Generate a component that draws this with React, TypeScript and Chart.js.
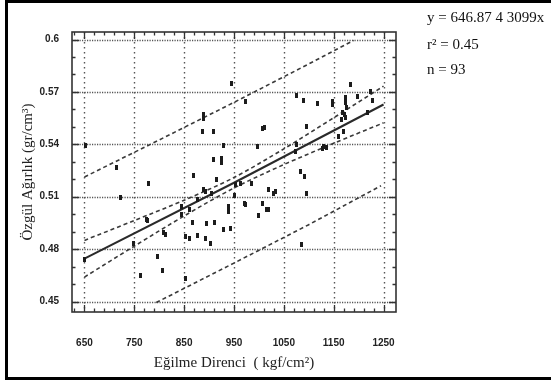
import React, { useEffect, useRef } from 'react';
import { Chart, registerables } from 'chart.js';
Chart.register(...registerables);

const xTickValues = [650, 750, 850, 950, 1050, 1150, 1250];
const xTickLabels = ['650', '750', '850', '950', '1050', '1150', '1250'];
const yTickValues = [0.45, 0.48, 0.51, 0.54, 0.57, 0.6];
const yTickLabels = ['0.45', '0.48', '0.51', '0.54', '0.57', '0.6'];

const pointX = [
  944, 889, 889, 886, 909, 928, 653, 997, 909, 924, 925, 974,
  1184, 1075, 1090, 1117, 1147, 1147, 1174, 1174, 1198, 1224, 1228, 1218,
  1168, 1174, 1160, 1170, 1096, 1007, 1011, 1075, 1073, 1128, 1135,
  1083, 1091, 1095, 1085, 1020, 1033, 1030, 971, 974, 1008, 1015, 1020, 999, 986, 964,
  714, 778, 722, 774, 777, 809, 812, 796, 807, 762, 853, 748,
  844, 844, 861, 867, 853, 861, 876, 892, 902, 894, 911, 929, 943,
  938, 938, 889, 892, 877, 905, 914, 868, 952, 954, 650, 938,
  1176, 1172, 1165, 1130,
];
const pointY = [
  0.5746, 0.5572, 0.5545, 0.5474, 0.5474, 0.5392, 0.5392, 0.5385, 0.5312, 0.5316, 0.5297, 0.5645,
  0.5742, 0.5679, 0.5652, 0.5633, 0.5646, 0.5627, 0.5666, 0.5637, 0.5675, 0.5704, 0.5650, 0.5580,
  0.5583, 0.5551, 0.5446, 0.5474, 0.5503, 0.5488, 0.5495, 0.5398, 0.5360, 0.5375, 0.5380,
  0.5245, 0.5217, 0.5116, 0.4825, 0.5144, 0.5131, 0.5120, 0.5064, 0.5055, 0.5064, 0.5026, 0.5026, 0.4991, 0.5175, 0.5175,
  0.5265, 0.5175, 0.5093, 0.4972, 0.4963, 0.4896, 0.4882, 0.4755, 0.4676, 0.4647, 0.4634, 0.4835,
  0.5045, 0.5001, 0.5026, 0.4953, 0.4873, 0.4858, 0.4877, 0.4859, 0.4835, 0.4944, 0.4953, 0.4915, 0.4917,
  0.5045, 0.5016, 0.5140, 0.5130, 0.5083, 0.5121, 0.5198, 0.5220, 0.5106, 0.5169, 0.4743, 0.5030,
  0.5610, 0.5570, 0.5540, 0.5390,
];

const fitX = [650, 950, 1250];
const fitY = [0.4745, 0.518, 0.5628];
const confX = [650, 750, 850, 950, 1050, 1150, 1250];
const confUpperY = [0.485, 0.4964, 0.508, 0.521, 0.5374, 0.5552, 0.5733];
const confLowerY = [0.464, 0.4817, 0.499, 0.515, 0.5284, 0.5406, 0.5523];
const predUpperX = [650, 800, 950, 1100, 1190];
const predUpperY = [0.5213, 0.5425, 0.564, 0.586, 0.5995];
const predLowerX = [794, 950, 1100, 1245];
const predLowerY = [0.4494, 0.472, 0.494, 0.5163];

const X_MIN = 625, X_MAX = 1275, Y_MIN = 0.444, Y_MAX = 0.6043;

const zip = (xs: number[], ys: number[]) => xs.map((x, i) => ({ x, y: ys[i] }));

const framePlugin = {
  id: 'framePlugin',
  beforeDatasetsDraw(chart: any) {
    const { ctx, chartArea: a, scales } = chart;
    const xs = scales.x, ys = scales.y;
    ctx.save();
    ctx.strokeStyle = '#555';
    ctx.lineWidth = 1.4;
    ctx.setLineDash([1.4, 3.6]);
    xTickValues.forEach((v) => {
      const px = Math.round(xs.getPixelForValue(v)) + 0.5;
      ctx.beginPath();
      ctx.moveTo(px, a.top);
      ctx.lineTo(px, a.bottom);
      ctx.stroke();
    });
    ctx.setLineDash([1.2, 1.3]);
    yTickValues.forEach((v) => {
      const py = Math.round(ys.getPixelForValue(v)) + 0.5;
      ctx.beginPath();
      ctx.moveTo(a.left, py);
      ctx.lineTo(a.right, py);
      ctx.stroke();
    });
    ctx.restore();
  },
  afterDatasetsDraw(chart: any) {
    const { ctx, chartArea: a, scales } = chart;
    const xs = scales.x, ys = scales.y;
    ctx.save();
    ctx.strokeStyle = '#333';
    ctx.lineWidth = 1.6;
    ctx.setLineDash([]);
    ctx.strokeRect(a.left, a.top, a.right - a.left, a.bottom - a.top);
    ctx.lineWidth = 1.3;
    ctx.beginPath();
    for (let v = 630; v <= 1270; v += 20) {
      const major = xTickValues.includes(v);
      const len = major ? 7 : 3.5;
      const px = Math.round(xs.getPixelForValue(v)) + 0.5;
      if (px <= a.left + 2 || px >= a.right - 2) continue;
      ctx.moveTo(px, a.bottom);
      ctx.lineTo(px, a.bottom - len);
      ctx.moveTo(px, a.top);
      ctx.lineTo(px, a.top + len);
    }
    for (let k = 45; k <= 60; k += 1) {
      const v = k / 100;
      const major = k % 3 === 0;
      const len = major ? 7 : 3.5;
      const py = Math.round(ys.getPixelForValue(v)) + 0.5;
      ctx.moveTo(a.left, py);
      ctx.lineTo(a.left + len, py);
      ctx.moveTo(a.right, py);
      ctx.lineTo(a.right - len, py);
    }
    ctx.stroke();
    ctx.restore();
  },
};

export default function App() {
  const ref = useRef<HTMLCanvasElement>(null);
  useEffect(() => {
    const canvas = ref.current;
    if (!canvas) return;
    const marker = document.createElement('canvas');
    marker.width = 3;
    marker.height = 5;
    const mctx = marker.getContext('2d')!;
    mctx.fillStyle = '#1c1c1c';
    mctx.fillRect(0, 0, 3, 5);

    const tickFont = { family: "'Liberation Sans', sans-serif", size: 10, weight: 'bold' as const };
    const lineColor = '#3a3a3a';
    const chart = new Chart(canvas, {
      type: 'scatter',
      data: {
        datasets: [
          {
            label: 'points',
            data: zip(pointX, pointY),
            pointStyle: marker as any,
            pointRadius: 2.5,
            showLine: false,
          },
          {
            label: 'fit',
            data: zip(fitX, fitY),
            showLine: true,
            pointRadius: 0,
            borderColor: '#2a2a2a',
            borderWidth: 2,
          },
          {
            label: 'confUpper',
            data: zip(confX, confUpperY),
            showLine: true,
            pointRadius: 0,
            borderColor: lineColor,
            borderWidth: 1.6,
            borderDash: [4, 3],
            tension: 0.3,
          },
          {
            label: 'confLower',
            data: zip(confX, confLowerY),
            showLine: true,
            pointRadius: 0,
            borderColor: lineColor,
            borderWidth: 1.6,
            borderDash: [4, 3],
            tension: 0.3,
          },
          {
            label: 'predUpper',
            data: zip(predUpperX, predUpperY),
            showLine: true,
            pointRadius: 0,
            borderColor: lineColor,
            borderWidth: 1.6,
            borderDash: [4, 3],
          },
          {
            label: 'predLower',
            data: zip(predLowerX, predLowerY),
            showLine: true,
            pointRadius: 0,
            borderColor: lineColor,
            borderWidth: 1.6,
            borderDash: [4, 3],
          },
        ],
      },
      options: {
        animation: false,
        responsive: false,
        devicePixelRatio: 1,
        layout: { padding: { left: 0, top: 32, right: 155, bottom: 0 } },
        plugins: { legend: { display: false }, tooltip: { enabled: false } },
        scales: {
          x: {
            type: 'linear',
            min: X_MIN,
            max: X_MAX,
            grid: { display: false },
            border: { display: false },
            afterBuildTicks: (s: any) => {
              s.ticks = xTickValues.map((v) => ({ value: v }));
            },
            afterFit: (s: any) => {
              s.height = 69;
            },
            ticks: {
              autoSkip: false,
              maxRotation: 0,
              padding: 17,
              color: '#222',
              font: tickFont,
              callback: (v: any) => xTickLabels[xTickValues.indexOf(Number(v))] ?? '',
            },
            title: {
              display: true,
              text: 'Eğilme Direnci  ( kgf/cm²)',
              color: '#222',
              font: { family: "'Liberation Serif', serif", size: 15 },
              padding: { top: 0, bottom: 9 },
            },
          },
          y: {
            type: 'linear',
            min: Y_MIN,
            max: Y_MAX,
            grid: { display: false },
            border: { display: false },
            afterBuildTicks: (s: any) => {
              s.ticks = yTickValues.map((v) => ({ value: v }));
            },
            afterFit: (s: any) => {
              s.width = 72;
            },
            ticks: {
              autoSkip: false,
              padding: 5,
              color: '#222',
              font: tickFont,
              callback: (v: any) => {
                const i = yTickValues.findIndex((t) => Math.abs(t - Number(v)) < 1e-6);
                return i >= 0 ? yTickLabels[i] : '';
              },
            },
            title: {
              display: true,
              text: 'Özgül Ağırlık (gr/cm³)',
              color: '#222',
              font: { family: "'Liberation Serif', serif", size: 15 },
              padding: { top: 19, bottom: 0 },
            },
          },
        },
      },
      plugins: [framePlugin],
    });
    return () => chart.destroy();
  }, []);

  const textStyle: React.CSSProperties = {
    position: 'absolute',
    left: 427,
    fontFamily: "'Liberation Serif', serif",
    fontSize: 15,
    lineHeight: '15px',
    color: '#111',
    whiteSpace: 'pre',
  };

  return (
    <div style={{ position: 'fixed', left: 0, top: 0, width: 551, height: 381, overflow: 'hidden', background: '#fff' }}>
      <canvas ref={ref} width={551} height={381} style={{ position: 'absolute', left: 0, top: 0, width: 551, height: 381 }} />
      <div style={{ ...textStyle, top: 10 }}>y = 646.87 4 3099x</div>
      <div style={{ ...textStyle, top: 37 }}>r² = 0.45</div>
      <div style={{ ...textStyle, top: 62 }}>n = 93</div>
      <div style={{ position: 'absolute', left: 5, top: 0, width: 600, height: 380, border: '3px solid #000', boxSizing: 'border-box', pointerEvents: 'none' }} />
    </div>
  );
}
